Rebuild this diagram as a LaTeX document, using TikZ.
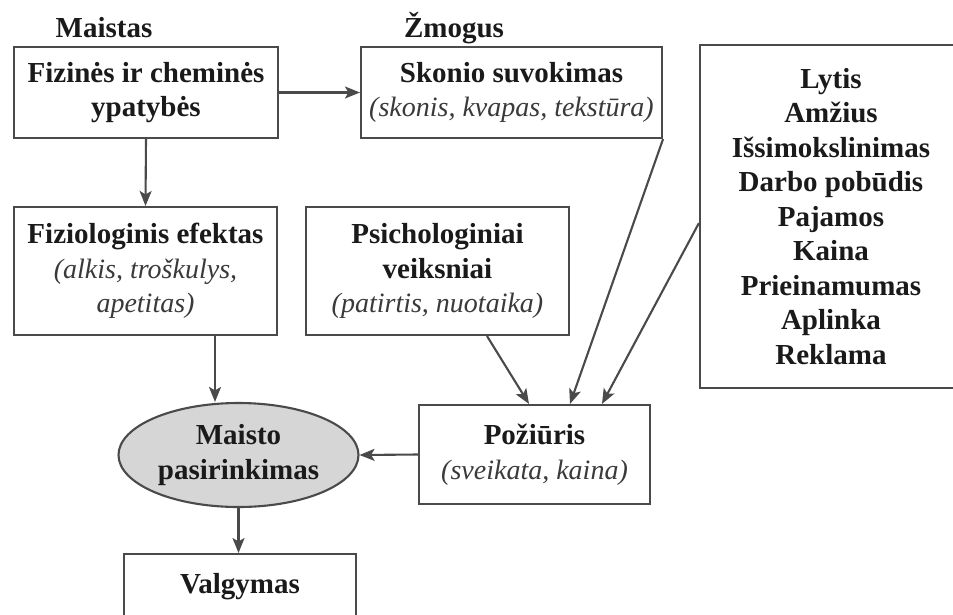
\documentclass[tikz,border=0pt]{standalone}
\usepackage{fontspec}
\setmainfont{Liberation Serif}
\usetikzlibrary{arrows.meta,shapes.geometric}
\definecolor{linec}{HTML}{4A4A4A}
\definecolor{txt}{HTML}{1A1A1A}
\definecolor{itc}{HTML}{3A3A3A}
\definecolor{ellfill}{HTML}{D6D6D6}
\newcommand\ital[1]{{\fontsize{28}{34.5}\selectfont\mdseries\itshape\color{itc}#1}}
\begin{document}
\begin{tikzpicture}[x=1pt,y=-1pt,
  box/.style={draw=linec, line width=2.1pt, rectangle, align=center, inner sep=0pt,
    text=txt, font=\fontsize{29}{34.5}\selectfont\bfseries},
  lbl/.style={inner sep=0pt, text=txt, font=\fontsize{29}{34.5}\selectfont\bfseries, anchor=base},
  arr/.style={draw=linec, line width=2.1pt, -{Stealth[length=15pt,width=12pt,inset=3.5pt]}}]
\useasboundingbox (0,0) rectangle (953,614);
\clip (0,0) rectangle (953,614);
\fill[white] (0,0) rectangle (953,614);

\node[lbl] (lmaist) at (104,37) {Maistas};
\node[lbl] (lzmog) at (454,37) {Žmogus};

\node[box, minimum width=264pt, minimum height=91pt] (fiz1) at (146,92.5)
  {Fizinės ir cheminės\\ypatybės};
\node[box, minimum width=301pt, minimum height=91pt] (skon) at (511.5,92.5)
  {Skonio suvokimas\\\ital{(skonis, kvapas, tekstūra)}};
\node[box, minimum width=262pt, minimum height=343pt] (dem) at (831,216.5)
  {Lytis\\Amžius\\Išsimokslinimas\\Darbo pobūdis\\Pajamos\\Kaina\\Prieinamumas\\Aplinka\\Reklama};
\node[box, minimum width=263pt, minimum height=128pt] (fiz2) at (145.5,271)
  {Fiziologinis efektas\\\ital{(alkis, troškulys,}\\\ital{apetitas)}};
\node[box, minimum width=263pt, minimum height=128pt] (psi) at (437.5,271)
  {Psichologiniai\\veiksniai\\\ital{(patirtis, nuotaika)}};
\node[box, minimum width=231pt, minimum height=99pt] (poz) at (534.5,454.5)
  {Požiūris\\\ital{(sveikata, kaina)}};
\node[box, ellipse, fill=ellfill, minimum width=240pt, minimum height=104pt] (ell) at (238.5,455)
  {Maisto\\pasirinkimas};
\node[box, anchor=north, minimum width=232pt, text height=39pt, text depth=58pt] (valg) at (240,553)
  {Valgymas};

\draw[arr] (fiz1.east) -- (skon.west);
\draw[arr] (fiz1.south) -- (fiz2.north);
\draw[arr] ([xshift=69.5pt]fiz2.south) -- ([xshift=69.5pt]fiz2.south |- ell.north);
\draw[arr] (ell.south) -- (ell.south |- valg.north);
\draw[arr] (poz.west) -- (ell.east);
\draw[arr] ([xshift=49.5pt]psi.south) -- ([xshift=-5.5pt]poz.north);
\draw[arr] (skon.south east) -- ([xshift=35.5pt]poz.north);
\draw[arr] ([yshift=-6.5pt]dem.west) -- ([xshift=67.5pt]poz.north);
\end{tikzpicture}
\end{document}
